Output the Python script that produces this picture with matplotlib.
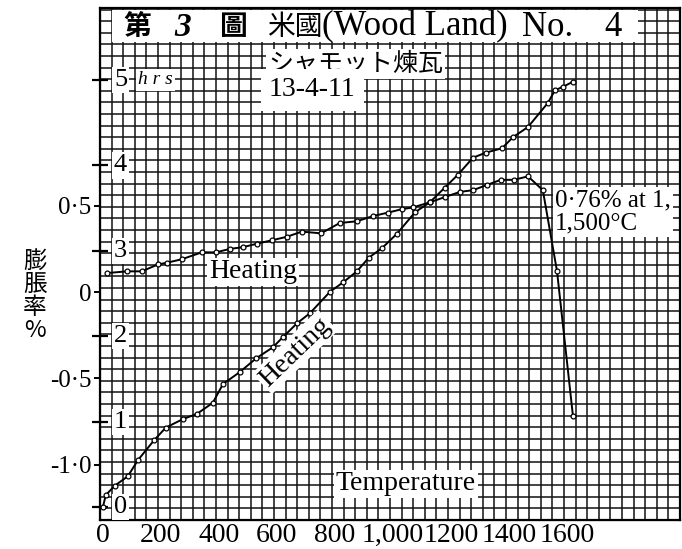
import matplotlib
matplotlib.use("Agg")
import matplotlib.pyplot as plt
import matplotlib.transforms as mtransforms
from matplotlib.patches import Rectangle
import numpy as np

plt.rcParams["font.family"] = ["Liberation Serif", "Noto Sans CJK JP"]

# expansion curve: temperature (deg C) vs expansion (%)
exp_temp = [14, 83, 134, 190, 221, 272, 341, 390, 438, 483, 531, 583, 634, 686,
            752, 817, 876, 931, 983, 1031, 1069, 1128, 1179, 1231, 1276, 1324,
            1372, 1417, 1466, 1517, 1566, 1621]
exp_pct = [0.11, 0.12, 0.12, 0.16, 0.17, 0.19, 0.23, 0.23, 0.25, 0.26, 0.28, 0.30,
           0.32, 0.35, 0.34, 0.40, 0.41, 0.44, 0.46, 0.48, 0.49, 0.52, 0.55, 0.58,
           0.59, 0.62, 0.65, 0.65, 0.67, 0.59, 0.12, -0.72]

# heating schedule: temperature (deg C) vs time (hrs)
hr_temp = [0, 10, 41, 86, 121, 176, 217, 276, 324, 379, 414, 472, 528, 586, 621,
           669, 714, 783, 828, 876, 917, 962, 1014, 1076, 1128, 1179, 1224, 1276,
           1321, 1376, 1414, 1466, 1534, 1559, 1586, 1621]
hr_time = [0.0, 0.14, 0.25, 0.36, 0.55, 0.78, 0.93, 1.03, 1.09, 1.22, 1.44, 1.58,
           1.74, 1.87, 1.99, 2.15, 2.27, 2.52, 2.63, 2.76, 2.92, 3.03, 3.20, 3.45,
           3.57, 3.74, 3.89, 4.09, 4.15, 4.20, 4.33, 4.45, 4.73, 4.88, 4.92, 4.98]

x_ticks = [0, 200, 400, 600, 800, 1000, 1200, 1400, 1600]
x_labels = ["0", "200", "400", "600", "800", "1,000", "1200", "1400", "1600"]
e_ticks = [0.5, 0.0, -0.5, -1.0]
e_labels = ["0·5", "0", "-0·5", "-1·0"]
hr_ticks = [0, 1, 2, 3, 4, 5]

SERIF = ["Liberation Serif", "Noto Sans CJK JP"]
CJK = ["Noto Sans CJK JP", "Liberation Serif"]
box = dict(facecolor="white", edgecolor="none", pad=1.5)

W, H = 682, 549
fig = plt.figure(figsize=(W / 100, H / 100), dpi=100)
ax = fig.add_axes([100 / W, 29 / H, 580 / W, 512 / H])
ax.set_xlim(-10, 1990)
ax.set_ylim(-1.32, 1.645)


def fx(px):
    return (px - 100) / 580


def fy(py):
    return (520 - py) / 512


# graph paper
for xf in np.arange(0, 1.0001, 0.02):
    ax.plot([xf, xf], [0, 1], transform=ax.transAxes, color="#111111",
            lw=1.1, zorder=1, clip_on=False)
for yf in np.arange(0, 1.0001, 0.02266):
    ax.plot([0, 1], [yf, yf], transform=ax.transAxes, color="#111111",
            lw=1.1, zorder=1, clip_on=False)
for s in ax.spines.values():
    s.set_linewidth(1.6)

ax.plot(exp_temp, exp_pct, color="black", lw=1.4, marker="o", ms=3.5,
        mfc="white", mec="black", mew=0.9, zorder=3)

ax.set_xticks(x_ticks)
ax.set_xticklabels(x_labels, fontsize=20, family=SERIF)
ax.tick_params(axis="x", length=0, pad=2)
ax.set_yticks(e_ticks)
ax.set_yticklabels(e_labels, fontsize=18, family=SERIF)
ax.tick_params(axis="y", length=4, width=1.4, pad=2)

ax2 = ax.twinx()
ax2.set_ylim(-0.152, 5.843)
ax2.yaxis.set_ticks_position("left")
ax2.set_yticks(hr_ticks)
ax2.tick_params(axis="y", direction="inout", length=11, width=1.6,
                labelleft=False, labelright=False)
ax2.spines["right"].set_visible(False)
ax2.plot(hr_temp, hr_time, color="black", lw=1.4, marker="o", ms=3.5,
         mfc="white", mec="black", mew=0.9, zorder=3)

tr = mtransforms.blended_transform_factory(ax.transAxes, ax2.transData)
for h in hr_ticks:
    ax2.text(fx(114), h, str(h), transform=tr, fontsize=19, family=SERIF,
             ha="left", va="center", bbox=box, zorder=4)
ax2.text(fx(138), 5.0, "h r s", transform=tr, fontsize=14, family=SERIF,
         style="italic", ha="left", va="center", bbox=box, zorder=4)

# title band
ax2.add_patch(Rectangle((fx(112), fy(42)), fx(638) - fx(112), fy(10) - fy(42),
                        transform=ax.transAxes, facecolor="white",
                        edgecolor="none", zorder=3.5))
ty = fy(27)
ax2.text(fx(123), ty, "第", transform=ax.transAxes, fontsize=20, family=CJK,
         weight="bold", ha="left", va="center", zorder=4)
ax2.text(fx(183), ty, "3", transform=ax.transAxes, fontsize=24, family=SERIF,
         weight="bold", style="italic", ha="center", va="center", zorder=4)
ax2.text(fx(220), ty, "圖", transform=ax.transAxes, fontsize=20, family=CJK,
         weight="bold", ha="left", va="center", zorder=4)
ax2.text(fx(267), ty, "米國", transform=ax.transAxes, fontsize=20, family=CJK,
         ha="left", va="center", zorder=4)
ax2.text(fx(322), ty, "(Wood Land)", transform=ax.transAxes, fontsize=25,
         family=SERIF, ha="left", va="center", zorder=4)
ax2.text(fx(522), ty, "No.", transform=ax.transAxes, fontsize=25,
         family=SERIF, ha="left", va="center", zorder=4)
ax2.text(fx(604), ty, "4", transform=ax.transAxes, fontsize=25,
         family=SERIF, ha="left", va="center", zorder=4)

# labels on the chart
ax2.text(fx(268), fy(64), "シャモット煉瓦", transform=ax.transAxes, fontsize=18,
         family=CJK, ha="left", va="center", zorder=4, bbox=box)
ax2.text(fx(269), fy(90), "13-4-11", transform=ax.transAxes, fontsize=20,
         family=SERIF, ha="left", va="center", zorder=4,
         bbox=dict(facecolor="white", edgecolor="none", pad=6))
ax2.text(fx(555), fy(212), "0·76% at 1,\n1,500°C", transform=ax.transAxes,
         fontsize=18, family=SERIF, ha="left", va="center", zorder=4,
         linespacing=1.1, bbox=box)
ax2.text(fx(253), fy(272), "Heating", transform=ax.transAxes, fontsize=20,
         family=SERIF, ha="center", va="center", zorder=4, bbox=box)
ax2.text(fx(295), fy(352), "Heating", transform=ax.transAxes, fontsize=20,
         family=SERIF, ha="center", va="center", rotation=44, zorder=4,
         bbox=box)
ax2.text(fx(406), fy(484), "Temperature", transform=ax.transAxes, fontsize=20,
         family=SERIF, ha="center", va="center", zorder=4, bbox=box)

fig.text(35 / W, 1 - 296 / H, "膨\n脹\n率\n%", fontsize=17, family=CJK,
         ha="center", va="center", linespacing=1.0)

fig.savefig("out.png", dpi=100)
